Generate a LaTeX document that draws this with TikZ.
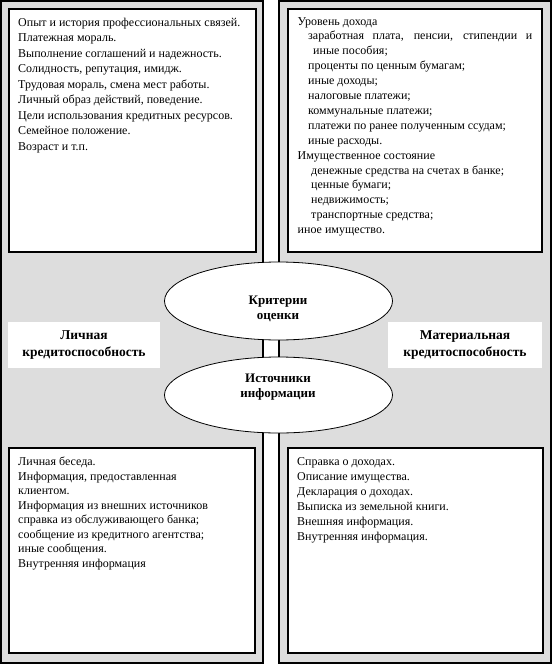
\documentclass[tikz,border=0pt]{standalone}
\usepackage{fontspec}
\setmainfont{Liberation Serif}
\usetikzlibrary{shapes.geometric}
\definecolor{panelgray}{RGB}{221,221,221}
\begin{document}
\begin{tikzpicture}[x=1pt,y=-1pt,
  panel/.style={draw=black, line width=1.6pt, fill=panelgray},
  wbox/.style={draw=black, line width=1.3pt, fill=white, inner sep=0pt},
  lbox/.style={fill=white, inner sep=0pt, align=center, font=\bfseries\fontsize{13.5}{16.5}\selectfont},
  oval/.style={ellipse, draw=black, line width=0.8pt, fill=white, inner sep=0pt},
  body/.style={inner sep=0pt, anchor=north west, align=left},
  head/.style={inner sep=0pt, align=center, font=\bfseries\fontsize{13}{15}\selectfont}]
\useasboundingbox (0,0) rectangle (552,664);
\fill[white] (0,0) rectangle (552,664);
% gray panels
\draw[panel] (1,1) rectangle (263,663);
\draw[panel] (279,1) rectangle (551,663);
% inner white boxes
\node[wbox, minimum width=247pt, minimum height=243pt] (tlbox) at (132.5,130.5) {};
\node[wbox, minimum width=254pt, minimum height=243pt] (trbox) at (415,130.5) {};
\node[wbox, minimum width=246pt, minimum height=205pt] (blbox) at (132,550.5) {};
\node[wbox, minimum width=255pt, minimum height=205pt] (brbox) at (415.5,550.5) {};
% texts
\node[body, font=\fontsize{12}{15.5}\selectfont] (tltext) at (18,17.5) {Опыт и история профессиональных связей.\\
Платежная мораль.\\
Выполнение соглашений и надежность.\\
Солидность, репутация, имидж.\\
Трудовая мораль, смена мест работы.\\
Личный образ действий, поведение.\\
Цели использования кредитных ресурсов.\\
Семейное положение.\\
Возраст и т.п.};
\node[body, font=\fontsize{12}{14.9}\selectfont] (trtext) at (297.5,17) {Уровень дохода\\
\hspace*{10.5pt}\makebox[224pt][s]{заработная плата, пенсии, стипендии и}\\
\hspace*{15.5pt}иные пособия;\\
\hspace*{10.5pt}проценты по ценным бумагам;\\
\hspace*{10.5pt}иные доходы;\\
\hspace*{10.5pt}налоговые платежи;\\
\hspace*{10.5pt}коммунальные платежи;\\
\hspace*{10.5pt}платежи по ранее полученным ссудам;\\
\hspace*{10.5pt}иные расходы.\\
Имущественное состояние\\
\hspace*{13.5pt}денежные средства на счетах в банке;\\
\hspace*{13.5pt}ценные бумаги;\\
\hspace*{13.5pt}недвижимость;\\
\hspace*{13.5pt}транспортные средства;\\
иное имущество.};
\node[body, font=\fontsize{12}{14.5}\selectfont] (bltext) at (18,457) {Личная беседа.\\
Информация, предоставленная\\
клиентом.\\
Информация из внешних источников\\
справка из обслуживающего банка;\\
сообщение из кредитного агентства;\\
иные сообщения.\\
Внутренняя информация};
\node[body, font=\fontsize{12}{15}\selectfont] (brtext) at (297,457) {Справка о доходах.\\
Описание имущества.\\
Декларация о доходах.\\
Выписка из земельной книги.\\
Внешняя информация.\\
Внутренняя информация.};
% side labels
\node[lbox, minimum width=152pt, minimum height=46pt] (personal) at (84,345) {Личная\\кредитоспособность};
\node[lbox, minimum width=154pt, minimum height=46pt] (material) at (465,345) {Материальная\\кредитоспособность};
% ellipses
\node[oval, minimum width=228pt, minimum height=78pt] (crit) at (278.5,301) {};
\node[oval, minimum width=228pt, minimum height=76pt] (src) at (278.5,395) {};
\node[head] (critlbl) at (278,309) {Критерии\\оценки};
\node[head] (srclbl) at (278,387) {Источники\\информации};
\end{tikzpicture}
\end{document}
